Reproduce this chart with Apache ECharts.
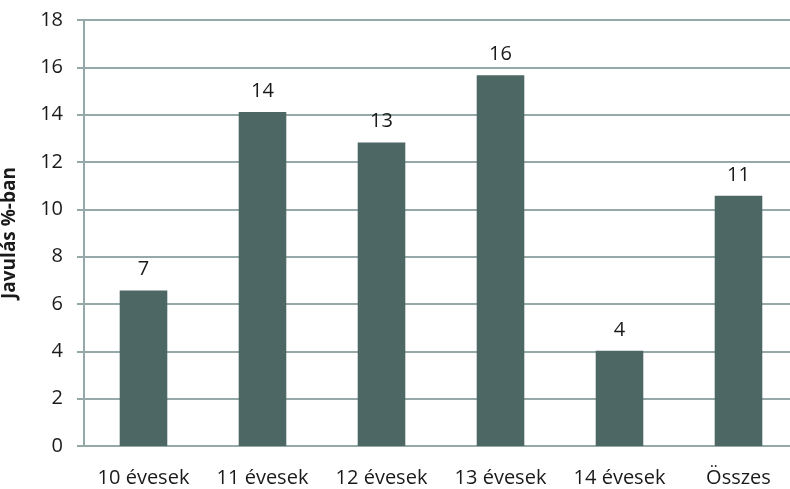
<!DOCTYPE html>
<html><head><meta charset="utf-8">
<script src="https://cdn.jsdelivr.net/npm/echarts@6/dist/echarts.min.js"></script>
<style>html,body{margin:0;padding:0;background:#fff}#c{width:790px;height:489px}</style>
</head><body><div id="c"></div>
<script>
const categories = ['10 évesek', '11 évesek', '12 évesek', '13 évesek', '14 évesek', 'Összes'];
const values = [6.57, 14.11, 12.82, 15.67, 4.02, 10.57];
const yTicks = { min: 0, max: 18, interval: 2 };
const yName = 'Javulás %-ban';

const chart = echarts.init(document.getElementById('c'));
const font = '"Open Sans", sans-serif';
chart.setOption({
  animation: false,
  grid: { left: 84, width: 714, top: 20, bottom: 43, containLabel: false, outerBoundsMode: 'none' },
  xAxis: {
    type: 'category', data: categories,
    axisLine: { lineStyle: { color: '#94a9a8', width: 2 } },
    axisTick: { show: false },
    axisLabel: { color: '#1a1a1a', fontSize: 20, fontFamily: font, margin: 22, interval: 0, hideOverlap: false }
  },
  yAxis: {
    type: 'value', min: yTicks.min, max: yTicks.max, interval: yTicks.interval,
    name: yName, nameLocation: 'middle', nameGap: 65, nameRotate: 90,
    nameTextStyle: { color: '#1a1a1a', fontSize: 19, fontWeight: 'bold', fontFamily: font },
    axisLine: { show: true, lineStyle: { color: '#94a9a8', width: 2 } },
    axisTick: { show: true, length: 7, lineStyle: { color: '#94a9a8', width: 2 } },
    axisLabel: { color: '#1a1a1a', fontSize: 20, fontFamily: font, margin: 21 },
    splitLine: { lineStyle: { color: '#94a9a8', width: 2 } }
  },
  series: [{
    type: 'bar', data: values, barWidth: '40%',
    itemStyle: { color: '#4d6765' },
    label: { show: true, position: 'top', distance: 11, color: '#1a1a1a', fontSize: 20, fontFamily: font,
      formatter: p => Math.round(p.value) }
  }]
});
</script></body></html>
